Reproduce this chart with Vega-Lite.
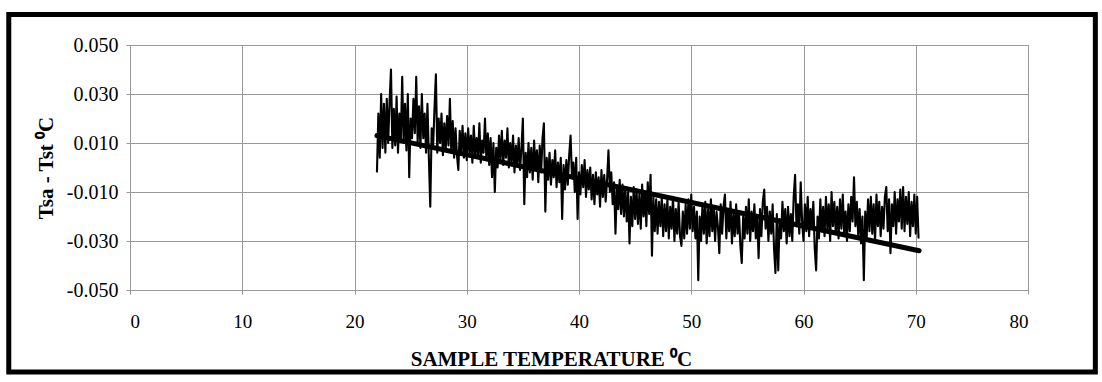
{
  "$schema": "https://vega.github.io/schema/vega-lite/v6.json",
  "width": 898,
  "height": 245,
  "autosize": "none",
  "padding": {"left": 130, "top": 45, "right": 74, "bottom": 92},
  "background": "white",
  "config": {"view": {"stroke": "#999", "strokeWidth": 1}, "font": "Liberation Serif"},
  "datasets": {
    "noise": [
      {"t":22.000,"d":-0.002},{"t":22.125,"d":0.022},{"t":22.250,"d":0.004},{"t":22.375,"d":0.030},{"t":22.500,"d":0.008},{"t":22.625,"d":0.026},{"t":22.750,"d":0.006},{"t":22.875,"d":0.028},
      {"t":23.000,"d":0.010},{"t":23.125,"d":0.027},{"t":23.250,"d":0.040},{"t":23.375,"d":0.008},{"t":23.500,"d":0.024},{"t":23.625,"d":0.009},{"t":23.750,"d":0.029},{"t":23.875,"d":0.006},
      {"t":24.000,"d":0.022},{"t":24.125,"d":0.011},{"t":24.250,"d":0.037},{"t":24.375,"d":0.010},{"t":24.500,"d":0.026},{"t":24.625,"d":0.007},{"t":24.750,"d":0.030},{"t":24.875,"d":-0.004},
      {"t":25.000,"d":0.020},{"t":25.125,"d":0.012},{"t":25.250,"d":0.028},{"t":25.375,"d":0.014},{"t":25.500,"d":0.037},{"t":25.625,"d":0.010},{"t":25.750,"d":0.025},{"t":25.875,"d":0.008},
      {"t":26.000,"d":0.030},{"t":26.125,"d":0.012},{"t":26.250,"d":0.022},{"t":26.375,"d":0.006},{"t":26.500,"d":0.026},{"t":26.625,"d":0.004},{"t":26.750,"d":-0.016},{"t":26.875,"d":0.016},
      {"t":27.000,"d":0.008},{"t":27.125,"d":0.024},{"t":27.250,"d":0.038},{"t":27.375,"d":0.006},{"t":27.500,"d":0.020},{"t":27.625,"d":0.010},{"t":27.750,"d":0.022},{"t":27.875,"d":0.005},
      {"t":28.000,"d":0.018},{"t":28.125,"d":0.007},{"t":28.250,"d":0.021},{"t":28.375,"d":0.009},{"t":28.500,"d":0.028},{"t":28.625,"d":0.006},{"t":28.750,"d":0.019},{"t":28.875,"d":0.004},
      {"t":29.000,"d":0.016},{"t":29.125,"d":0.005},{"t":29.250,"d":-0.001},{"t":29.375,"d":0.015},{"t":29.500,"d":0.006},{"t":29.625,"d":0.017},{"t":29.750,"d":0.004},{"t":29.875,"d":0.014},
      {"t":30.000,"d":0.003},{"t":30.125,"d":0.016},{"t":30.250,"d":0.006},{"t":30.375,"d":0.013},{"t":30.500,"d":0.002},{"t":30.625,"d":0.017},{"t":30.750,"d":0.005},{"t":30.875,"d":0.012},
      {"t":31.000,"d":0.004},{"t":31.125,"d":0.018},{"t":31.250,"d":0.002},{"t":31.375,"d":0.011},{"t":31.500,"d":0.006},{"t":31.625,"d":0.020},{"t":31.750,"d":0.003},{"t":31.875,"d":0.014},
      {"t":32.000,"d":0.001},{"t":32.125,"d":0.012},{"t":32.250,"d":-0.004},{"t":32.375,"d":0.010},{"t":32.500,"d":-0.010},{"t":32.625,"d":0.008},{"t":32.750,"d":0.000},{"t":32.875,"d":0.013},
      {"t":33.000,"d":0.003},{"t":33.125,"d":0.015},{"t":33.250,"d":0.001},{"t":33.375,"d":0.011},{"t":33.500,"d":0.004},{"t":33.625,"d":0.016},{"t":33.750,"d":0.000},{"t":33.875,"d":0.010},
      {"t":34.000,"d":0.002},{"t":34.125,"d":0.013},{"t":34.250,"d":-0.002},{"t":34.375,"d":0.009},{"t":34.500,"d":0.001},{"t":34.625,"d":0.012},{"t":34.750,"d":-0.001},{"t":34.875,"d":0.008},
      {"t":35.000,"d":0.020},{"t":35.125,"d":-0.015},{"t":35.250,"d":0.006},{"t":35.375,"d":-0.004},{"t":35.500,"d":0.010},{"t":35.625,"d":-0.002},{"t":35.750,"d":0.008},{"t":35.875,"d":-0.005},
      {"t":36.000,"d":0.011},{"t":36.125,"d":-0.001},{"t":36.250,"d":0.007},{"t":36.375,"d":-0.006},{"t":36.500,"d":0.009},{"t":36.625,"d":-0.002},{"t":36.750,"d":0.012},{"t":36.875,"d":0.018},
      {"t":37.000,"d":-0.018},{"t":37.125,"d":0.004},{"t":37.250,"d":-0.005},{"t":37.375,"d":0.006},{"t":37.500,"d":-0.007},{"t":37.625,"d":0.003},{"t":37.750,"d":-0.004},{"t":37.875,"d":0.007},
      {"t":38.000,"d":-0.008},{"t":38.125,"d":0.002},{"t":38.250,"d":-0.006},{"t":38.375,"d":0.004},{"t":38.500,"d":-0.021},{"t":38.625,"d":0.001},{"t":38.750,"d":-0.009},{"t":38.875,"d":0.003},
      {"t":39.000,"d":-0.007},{"t":39.125,"d":0.005},{"t":39.250,"d":0.013},{"t":39.375,"d":-0.004},{"t":39.500,"d":0.002},{"t":39.625,"d":-0.010},{"t":39.750,"d":0.004},{"t":39.875,"d":-0.021},
      {"t":40.000,"d":-0.002},{"t":40.125,"d":-0.011},{"t":40.250,"d":0.001},{"t":40.375,"d":-0.008},{"t":40.500,"d":0.003},{"t":40.625,"d":-0.012},{"t":40.750,"d":-0.001},{"t":40.875,"d":-0.009},
      {"t":41.000,"d":0.000},{"t":41.125,"d":-0.013},{"t":41.250,"d":-0.003},{"t":41.375,"d":-0.015},{"t":41.500,"d":-0.002},{"t":41.625,"d":-0.011},{"t":41.750,"d":-0.004},{"t":41.875,"d":-0.016},
      {"t":42.000,"d":-0.001},{"t":42.125,"d":-0.012},{"t":42.250,"d":-0.003},{"t":42.375,"d":-0.014},{"t":42.500,"d":-0.005},{"t":42.625,"d":0.007},{"t":42.750,"d":-0.010},{"t":42.875,"d":-0.002},
      {"t":43.000,"d":-0.015},{"t":43.125,"d":-0.006},{"t":43.250,"d":-0.027},{"t":43.375,"d":-0.008},{"t":43.500,"d":-0.017},{"t":43.625,"d":-0.005},{"t":43.750,"d":-0.019},{"t":43.875,"d":-0.007},
      {"t":44.000,"d":-0.020},{"t":44.125,"d":-0.008},{"t":44.250,"d":-0.022},{"t":44.375,"d":-0.010},{"t":44.500,"d":-0.031},{"t":44.625,"d":-0.012},{"t":44.750,"d":-0.024},{"t":44.875,"d":-0.008},
      {"t":45.000,"d":-0.021},{"t":45.125,"d":-0.009},{"t":45.250,"d":-0.023},{"t":45.375,"d":-0.011},{"t":45.500,"d":-0.025},{"t":45.625,"d":-0.007},{"t":45.750,"d":-0.020},{"t":45.875,"d":-0.010},
      {"t":46.000,"d":-0.024},{"t":46.125,"d":-0.006},{"t":46.250,"d":-0.019},{"t":46.375,"d":-0.003},{"t":46.500,"d":-0.036},{"t":46.625,"d":-0.012},{"t":46.750,"d":-0.026},{"t":46.875,"d":-0.013},
      {"t":47.000,"d":-0.027},{"t":47.125,"d":-0.014},{"t":47.250,"d":-0.024},{"t":47.375,"d":-0.012},{"t":47.500,"d":-0.028},{"t":47.625,"d":-0.015},{"t":47.750,"d":-0.026},{"t":47.875,"d":-0.013},
      {"t":48.000,"d":-0.029},{"t":48.125,"d":-0.016},{"t":48.250,"d":-0.025},{"t":48.375,"d":-0.012},{"t":48.500,"d":-0.030},{"t":48.625,"d":-0.017},{"t":48.750,"d":-0.027},{"t":48.875,"d":-0.014},
      {"t":49.000,"d":-0.028},{"t":49.125,"d":-0.032},{"t":49.250,"d":-0.018},{"t":49.375,"d":-0.029},{"t":49.500,"d":-0.015},{"t":49.625,"d":-0.027},{"t":49.750,"d":-0.013},{"t":49.875,"d":-0.025},
      {"t":50.000,"d":-0.011},{"t":50.125,"d":-0.026},{"t":50.250,"d":-0.016},{"t":50.375,"d":-0.029},{"t":50.500,"d":-0.018},{"t":50.625,"d":-0.046},{"t":50.750,"d":-0.020},{"t":50.875,"d":-0.030},
      {"t":51.000,"d":-0.015},{"t":51.125,"d":-0.027},{"t":51.250,"d":-0.014},{"t":51.375,"d":-0.031},{"t":51.500,"d":-0.017},{"t":51.625,"d":-0.028},{"t":51.750,"d":-0.013},{"t":51.875,"d":-0.026},
      {"t":52.000,"d":-0.016},{"t":52.125,"d":-0.030},{"t":52.250,"d":-0.018},{"t":52.375,"d":-0.024},{"t":52.500,"d":-0.035},{"t":52.625,"d":-0.015},{"t":52.750,"d":-0.027},{"t":52.875,"d":-0.016},
      {"t":53.000,"d":-0.011},{"t":53.125,"d":-0.029},{"t":53.250,"d":-0.017},{"t":53.375,"d":-0.026},{"t":53.500,"d":-0.014},{"t":53.625,"d":-0.031},{"t":53.750,"d":-0.019},{"t":53.875,"d":-0.028},
      {"t":54.000,"d":-0.015},{"t":54.125,"d":-0.027},{"t":54.250,"d":-0.018},{"t":54.375,"d":-0.032},{"t":54.500,"d":-0.039},{"t":54.625,"d":-0.020},{"t":54.750,"d":-0.029},{"t":54.875,"d":-0.016},
      {"t":55.000,"d":-0.027},{"t":55.125,"d":-0.013},{"t":55.250,"d":-0.030},{"t":55.375,"d":-0.018},{"t":55.500,"d":-0.026},{"t":55.625,"d":-0.015},{"t":55.750,"d":-0.029},{"t":55.875,"d":-0.020},
      {"t":56.000,"d":-0.037},{"t":56.125,"d":-0.017},{"t":56.250,"d":-0.028},{"t":56.375,"d":-0.014},{"t":56.500,"d":-0.009},{"t":56.625,"d":-0.025},{"t":56.750,"d":-0.016},{"t":56.875,"d":-0.030},
      {"t":57.000,"d":-0.018},{"t":57.125,"d":-0.027},{"t":57.250,"d":-0.015},{"t":57.375,"d":-0.033},{"t":57.500,"d":-0.043},{"t":57.625,"d":-0.019},{"t":57.750,"d":-0.042},{"t":57.875,"d":-0.021},
      {"t":58.000,"d":-0.029},{"t":58.125,"d":-0.014},{"t":58.250,"d":-0.026},{"t":58.375,"d":-0.017},{"t":58.500,"d":-0.031},{"t":58.625,"d":-0.016},{"t":58.750,"d":-0.028},{"t":58.875,"d":-0.019},
      {"t":59.000,"d":-0.030},{"t":59.125,"d":-0.012},{"t":59.250,"d":-0.003},{"t":59.375,"d":-0.024},{"t":59.500,"d":-0.015},{"t":59.625,"d":-0.027},{"t":59.750,"d":-0.006},{"t":59.875,"d":-0.022},
      {"t":60.000,"d":-0.030},{"t":60.125,"d":-0.015},{"t":60.250,"d":-0.026},{"t":60.375,"d":-0.012},{"t":60.500,"d":-0.028},{"t":60.625,"d":-0.017},{"t":60.750,"d":-0.025},{"t":60.875,"d":-0.014},
      {"t":61.000,"d":-0.033},{"t":61.125,"d":-0.042},{"t":61.250,"d":-0.020},{"t":61.375,"d":-0.029},{"t":61.500,"d":-0.013},{"t":61.625,"d":-0.026},{"t":61.750,"d":-0.016},{"t":61.875,"d":-0.028},
      {"t":62.000,"d":-0.012},{"t":62.125,"d":-0.025},{"t":62.250,"d":-0.015},{"t":62.375,"d":-0.030},{"t":62.500,"d":-0.010},{"t":62.625,"d":-0.024},{"t":62.750,"d":-0.014},{"t":62.875,"d":-0.027},
      {"t":63.000,"d":-0.016},{"t":63.125,"d":-0.029},{"t":63.250,"d":-0.013},{"t":63.375,"d":-0.025},{"t":63.500,"d":-0.011},{"t":63.625,"d":-0.027},{"t":63.750,"d":-0.018},{"t":63.875,"d":-0.030},
      {"t":64.000,"d":-0.015},{"t":64.125,"d":-0.026},{"t":64.250,"d":-0.012},{"t":64.375,"d":-0.022},{"t":64.500,"d":-0.004},{"t":64.625,"d":-0.024},{"t":64.750,"d":-0.014},{"t":64.875,"d":-0.028},
      {"t":65.000,"d":-0.017},{"t":65.125,"d":-0.031},{"t":65.250,"d":-0.020},{"t":65.375,"d":-0.046},{"t":65.500,"d":-0.018},{"t":65.625,"d":-0.029},{"t":65.750,"d":-0.013},{"t":65.875,"d":-0.026},
      {"t":66.000,"d":-0.012},{"t":66.125,"d":-0.027},{"t":66.250,"d":-0.015},{"t":66.375,"d":-0.030},{"t":66.500,"d":-0.011},{"t":66.625,"d":-0.024},{"t":66.750,"d":-0.014},{"t":66.875,"d":-0.028},
      {"t":67.000,"d":-0.016},{"t":67.125,"d":-0.025},{"t":67.250,"d":-0.012},{"t":67.375,"d":-0.008},{"t":67.500,"d":-0.026},{"t":67.625,"d":-0.013},{"t":67.750,"d":-0.035},{"t":67.875,"d":-0.015},
      {"t":68.000,"d":-0.024},{"t":68.125,"d":-0.010},{"t":68.250,"d":-0.027},{"t":68.375,"d":-0.013},{"t":68.500,"d":-0.022},{"t":68.625,"d":-0.009},{"t":68.750,"d":-0.025},{"t":68.875,"d":-0.008},
      {"t":69.000,"d":-0.026},{"t":69.125,"d":-0.012},{"t":69.250,"d":-0.023},{"t":69.375,"d":-0.010},{"t":69.500,"d":-0.028},{"t":69.625,"d":-0.014},{"t":69.750,"d":-0.024},{"t":69.875,"d":-0.011},
      {"t":70.000,"d":-0.027},{"t":70.125,"d":-0.012},{"t":70.250,"d":-0.029}
    ],
    "trend": [{"t": 22.0, "d": 0.013}, {"t": 70.3, "d": -0.034}],
    "frame": [{"x1": -10.8, "x2": 86.0, "y1": -0.0835, "y2": 0.0625}]
  },
  "layer": [
    {
      "data": {"name": "noise"},
      "mark": {"type": "line", "color": "black", "strokeWidth": 2.1, "strokeJoin": "round"},
      "encoding": {
        "x": {
          "field": "t", "type": "quantitative",
          "scale": {"domain": [0, 80], "nice": false, "zero": false},
          "axis": {
            "title": "SAMPLE TEMPERATURE ⁰C",
            "values": [0, 10, 20, 30, 40, 50, 60, 70, 80],
            "format": "d",
            "grid": true, "gridColor": "#999", "gridWidth": 1,
            "domainColor": "#999", "tickColor": "#999", "tickSize": 4,
            "labelFont": "Liberation Serif", "labelFontSize": 19, "labelColor": "black", "labelPadding": 18,
            "titleFont": "Liberation Serif", "titleFontSize": 21, "titleFontWeight": "bold", "titleColor": "black", "titlePadding": 17,
            "titleX": 421
          }
        },
        "y": {
          "field": "d", "type": "quantitative",
          "scale": {"domain": [-0.05, 0.05], "nice": false, "zero": false},
          "axis": {
            "title": "Tsa - Tst ⁰C",
            "values": [-0.05, -0.03, -0.01, 0.01, 0.03, 0.05],
            "labelExpr": "replace(format(datum.value, '.3f'), '−', '-')",
            "grid": true, "gridColor": "#999", "gridWidth": 1,
            "domainColor": "#999", "tickColor": "#999", "tickSize": 4,
            "labelFont": "Liberation Serif", "labelFontSize": 20, "labelColor": "black", "labelPadding": 8,
            "titleFont": "Liberation Serif", "titleFontSize": 21, "titleFontWeight": "bold", "titleColor": "black", "titlePadding": 10
          }
        }
      }
    },
    {
      "data": {"name": "trend"},
      "mark": {"type": "line", "color": "black", "strokeWidth": 5, "strokeCap": "round"},
      "encoding": {
        "x": {"field": "t", "type": "quantitative", "scale": {"domain": [0, 80], "nice": false, "zero": false}},
        "y": {"field": "d", "type": "quantitative", "scale": {"domain": [-0.05, 0.05], "nice": false, "zero": false}}
      }
    },
    {
      "data": {"name": "frame"},
      "mark": {"type": "rect", "fillOpacity": 0, "stroke": "black", "strokeWidth": 5, "clip": false},
      "encoding": {
        "x": {"field": "x1", "type": "quantitative", "scale": {"domain": [0, 80], "nice": false, "zero": false}},
        "x2": {"field": "x2"},
        "y": {"field": "y1", "type": "quantitative", "scale": {"domain": [-0.05, 0.05], "nice": false, "zero": false}},
        "y2": {"field": "y2"}
      }
    }
  ]
}
